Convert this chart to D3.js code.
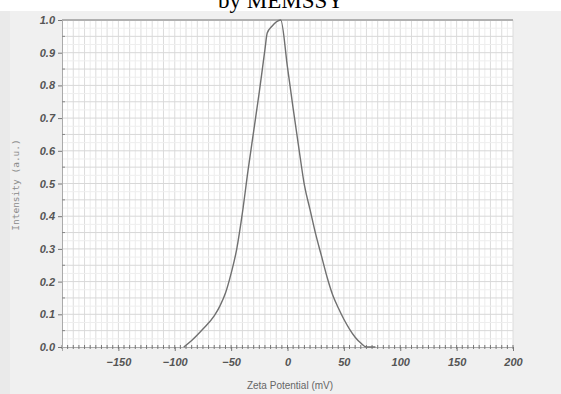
<!DOCTYPE html>
<html>
<head>
<meta charset="utf-8">
<script src="https://cdn.jsdelivr.net/npm/d3@7"></script>
<style>
  body { margin: 0; background: #fff; }
</style>
</head>
<body>
<svg id="svg" width="561" height="394"></svg>
<script>
// zeta potential distribution
var zeta = [-92, -85, -75, -65, -60, -55, -50, -45, -40, -35, -30, -25, -20, -18, -14, -6,
            0, 5, 10, 15, 20, 25, 30, 35, 40, 45, 50, 55, 60, 65, 70, 78];
var intensity = [0, 0.02, 0.055, 0.095, 0.125, 0.165, 0.225, 0.30, 0.41, 0.54, 0.66, 0.78, 0.91, 0.96, 0.98, 1.0,
                 0.855, 0.73, 0.61, 0.495, 0.42, 0.345, 0.28, 0.215, 0.16, 0.12, 0.085, 0.055, 0.03, 0.012, 0, 0];
var xTicks = [-150, -100, -50, 0, 50, 100, 150, 200];
var yTicks = [0, 0.1, 0.2, 0.3, 0.4, 0.5, 0.6, 0.7, 0.8, 0.9, 1.0];

window.onload = function() {
    var svg = d3.select("#svg");
    var left = 62, right = 513, top = 20, bottom = 347;

    var x = d3.scaleLinear().domain([-200, 200]).range([left, right]);
    var y = d3.scaleLinear().domain([0, 1]).range([bottom, top]);

    // grey panel behind the chart, title area stays white
    svg.append("rect").attr("x", 0).attr("y", 11).attr("width", 561).attr("height", 383).attr("fill", "#f0f0f0");
    svg.append("rect").attr("x", 0).attr("y", 11).attr("width", 10).attr("height", 383).attr("fill", "#eaeaea");
    svg.append("rect").attr("x", left).attr("y", top).attr("width", right - left).attr("height", bottom - top).attr("fill", "#fff");

    // title, cut off at top edge like the source
    svg.append("text").attr("x", 281).attr("y", 8).attr("text-anchor", "middle")
        .style("font-family", "Liberation Serif, serif").style("font-size", "23px")
        .text("by MEMSSY");

    // grid
    var grid = svg.append("g");
    grid.selectAll(".vmin").data(d3.range(-195, 200, 10)).enter().append("line")
        .attr("x1", d => x(d)).attr("x2", d => x(d)).attr("y1", top).attr("y2", bottom)
        .attr("stroke", "#ececec").attr("stroke-width", 1);
    grid.selectAll(".vmaj").data(d3.range(-190, 201, 10)).enter().append("line")
        .attr("x1", d => x(d)).attr("x2", d => x(d)).attr("y1", top).attr("y2", bottom)
        .attr("stroke", "#dcdcdc").attr("stroke-width", 1);
    grid.selectAll(".hmin").data(d3.range(0.025, 1, 0.05)).enter().append("line")
        .attr("x1", left).attr("x2", right).attr("y1", d => y(d)).attr("y2", d => y(d))
        .attr("stroke", "#eeeeee").attr("stroke-width", 1);
    grid.selectAll(".hmaj").data(d3.range(0.05, 1, 0.05)).enter().append("line")
        .attr("x1", left).attr("x2", right).attr("y1", d => y(d)).attr("y2", d => y(d))
        .attr("stroke", "#d8d8d8").attr("stroke-width", 1);

    // top border
    svg.append("line").attr("x1", left).attr("x2", right).attr("y1", top).attr("y2", top)
        .attr("stroke", "#b0b0b0").attr("stroke-width", 2);

    // axes
    var xAxis = d3.axisBottom(x).tickValues(xTicks).tickSize(4).tickFormat(d3.format("d"));
    var gx = svg.append("g").attr("transform", "translate(0," + bottom + ")").call(xAxis);
    gx.append("g").selectAll("line").data(d3.range(-200, 201, 5)).enter().append("line")
        .attr("x1", d => x(d)).attr("x2", d => x(d)).attr("y1", -2).attr("y2", 2).attr("stroke", "#777");

    var yAxis = d3.axisLeft(y).tickValues(yTicks).tickSize(4).tickFormat(d3.format(".1f"));
    var gy = svg.append("g").attr("transform", "translate(" + left + ",0)").call(yAxis);
    gy.append("g").selectAll("line").data(d3.range(0.05, 1, 0.1)).enter().append("line")
        .attr("x1", 0).attr("x2", 3).attr("y1", d => y(d)).attr("y2", d => y(d)).attr("stroke", "#888");

    [gx, gy].forEach(function(g) {
        g.select(".domain").attr("stroke", "#aaa");
        g.selectAll(".tick line").attr("stroke", "#777");
        g.selectAll("text").attr("fill", "#555")
            .style("font-family", "Liberation Sans, Arial, sans-serif")
            .style("font-size", "11px").style("font-weight", "bold").style("font-style", "italic");
    });
    gx.selectAll(".tick text").attr("dy", "1.1em");

    // axis titles
    svg.append("text").attr("x", 290).attr("y", 389).attr("text-anchor", "middle")
        .attr("fill", "#666").style("font-family", "Liberation Sans, Arial, sans-serif").style("font-size", "10px")
        .text("Zeta Potential (mV)");
    svg.append("text").attr("transform", "translate(19,185) rotate(-90)").attr("text-anchor", "middle")
        .attr("fill", "#8a8a8a").style("font-family", "DejaVu Sans Mono, monospace").style("font-size", "9.5px")
        .text("Intensity (a.u.)");

    // curve
    var pts = zeta.map((d, i) => [d, intensity[i]]);
    var line = d3.line().x(d => x(d[0])).y(d => y(d[1])).curve(d3.curveMonotoneX);
    svg.append("path").datum(pts).attr("d", line)
        .attr("fill", "none").attr("stroke", "#707070").attr("stroke-width", 1.4);
};
</script>
</body>
</html>
